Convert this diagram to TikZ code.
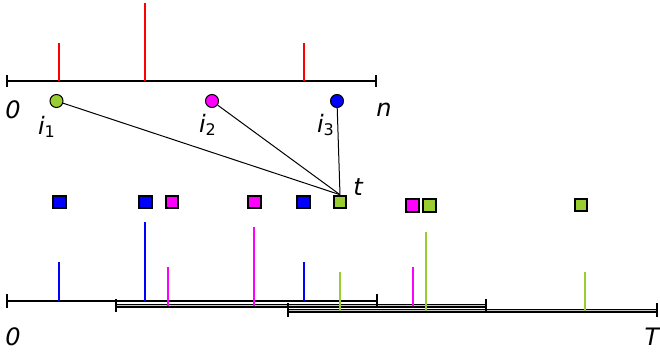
\documentclass[tikz,border=0pt]{standalone}
\usepackage{fontspec}
\setmainfont{DejaVu Sans}
\definecolor{ygreen}{RGB}{154,205,50}
\definecolor{mgnt}{RGB}{255,0,255}
\definecolor{blu}{RGB}{0,0,255}

\begin{document}
\begin{tikzpicture}[x=0.5pt,y=-0.5pt,
    lbl/.style={font=\fontsize{12}{14}\selectfont\itshape,inner sep=0pt},
    dot/.style={circle,draw,line width=0.5pt,minimum size=6.5pt,inner sep=0pt},
    sq/.style={rectangle,draw,line width=1pt,minimum size=6.3pt,inner sep=0pt},
    dbl/.style={line width=0.7pt,double=gray!45,double distance=0.6pt}]
        \useasboundingbox (0,0) rectangle (660,354);
        % index axis
        \draw[line width=1pt] (7,81) -- (376,81);
        \draw[line width=1pt] (7,75) -- (7,87) (376,75) -- (376,87);
        \draw[red,line width=1pt] (59,81) -- (59,43) (145,81) -- (145,3)
            (304,81) -- (304,43);
        % picked indices
        \node[dot,fill=ygreen] (i1) at (56.5,101) {};
        \node[dot,fill=mgnt] (i2) at (212,101) {};
        \node[dot,fill=blu] (i3) at (337,101) {};
        \node[lbl] (zero) at (13,110) {0};
        \node[lbl] (n) at (384,110) {n};
        \node[lbl] (li1) at (47,127) {i\textsubscript{\upshape 1}};
        \node[lbl] (li2) at (208,125) {i\textsubscript{\upshape 2}};
        \node[lbl] (li3) at (326,125) {i\textsubscript{\upshape 3}};
        % time stamps
        \node[sq,fill=blu] (b1) at (59.5,202) {};
        \node[sq,fill=blu] (b2) at (145.5,202) {};
        \node[sq,fill=mgnt] (m1) at (172,202) {};
        \node[sq,fill=mgnt] (m2) at (254.5,202) {};
        \node[sq,fill=blu] (b3) at (303.5,202) {};
        \node[sq,fill=ygreen] (t) at (340,202) {};
        \node[sq,fill=mgnt] (m3) at (412.5,205.5) {};
        \node[sq,fill=ygreen] (g2) at (429.5,205.5) {};
        \node[sq,fill=ygreen] (g3) at (581,205) {};
        \node[lbl] (tl) at (358,187) {t};
        \draw[line width=0.5pt] (i1) -- (t.north);
        \draw[line width=0.5pt] (i2) -- (t.north);
        \draw[line width=0.5pt] (i3) -- (t.north);
        % time axes
        \draw[line width=1pt] (7,301) -- (377,301);
        \draw[dbl] (116,305.5) -- (486,305.5);
        \draw[dbl] (288,310.5) -- (657,310.5);
        \draw[line width=1pt] (7,294) -- (7,308) (377,294) -- (377,308);
        \draw[line width=1pt] (116,299) -- (116,312) (486,299) -- (486,312);
        \draw[line width=1pt] (288,303) -- (288,317) (657,303) -- (657,317);
        \foreach \s/\y/\c in {7/301/blu,116/305.5/mgnt,288/310.5/ygreen}
            \draw[\c,line width=1pt] (\s+52,\y) -- (\s+52,\y-39)
                (\s+138,\y) -- (\s+138,\y-79) (\s+297,\y) -- (\s+297,\y-39);
        \node[lbl] (zeroT) at (13,337) {0};
        \node[lbl] (T) at (652,337) {T};
    \end{tikzpicture}
\end{document}
